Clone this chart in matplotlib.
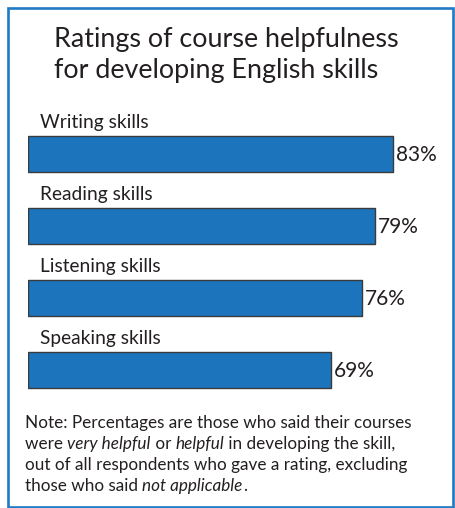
import matplotlib
matplotlib.use("Agg")
import matplotlib.pyplot as plt
from matplotlib.patches import Rectangle

plt.rcParams['font.family'] = ['Lato', 'DejaVu Sans']

skills = ["Writing skills", "Reading skills", "Listening skills", "Speaking skills"]
pct = [83, 79, 76, 69]

title_lines = ["Ratings of course helpfulness", "for developing English skills"]
# note lines as (text, italic) segments
note_lines = [
    [("Note: Percentages are those who said their courses", False)],
    [("were ", False), ("very helpful", True), (" or ", False), ("helpful", True),
     (" in developing the skill,", False)],
    [("out of all respondents who gave a rating, excluding", False)],
    [("those who said ", False), ("not applicable", True), (".", False)],
]

W, H = 455, 508
fig = plt.figure(figsize=(W / 100, H / 100), dpi=100)
fig.patch.set_facecolor("white")

# blue frame
fig.patches.append(Rectangle((7.5 / W, 1 - 506.5 / H), 445.5 / W, 498.5 / H,
                             transform=fig.transFigure, fill=False,
                             edgecolor="#1f7bc4", linewidth=1.9))

TXT = "#231f20"

for i, line in enumerate(title_lines):
    fig.text(54 / W, 1 - (47 + 31 * i) / H, line, fontsize=19.4, color=TXT,
             va="baseline", ha="left")

# bars: 4 slots of 72 px starting at y=118
ax = fig.add_axes([28 / W, 1 - 406 / H, 439.5 / W, 288 / H])
ax.set_xlim(0, 100)
ax.set_ylim(3.5, -0.5)
ax.axis("off")
ypos = list(range(len(skills)))
ax.barh(ypos, pct, height=0.5, color="#1c75bc", edgecolor="#3a3a3a",
        linewidth=1.0)
for y, name, v in zip(ypos, skills, pct):
    ax.text(2.7, y - 0.36, name, fontsize=13.8, color=TXT, va="baseline",
            ha="left", clip_on=False)
    ax.text(v + 0.7, y + 0.02, f"{v}%", fontsize=15, color=TXT, va="center",
            ha="left", clip_on=False)

# note with italic segments
fig.canvas.draw()
r = fig.canvas.get_renderer()
for i, segs in enumerate(note_lines):
    x = 25 / W
    ypx = 428 + 21.1 * i
    for s, it in segs:
        t = fig.text(x, 1 - ypx / H, s, fontsize=12.3, color=TXT,
                     style="italic" if it else "normal", va="baseline", ha="left")
        bb = t.get_window_extent(renderer=r)
        x += bb.width / W

fig.savefig("out.png", dpi=100)
